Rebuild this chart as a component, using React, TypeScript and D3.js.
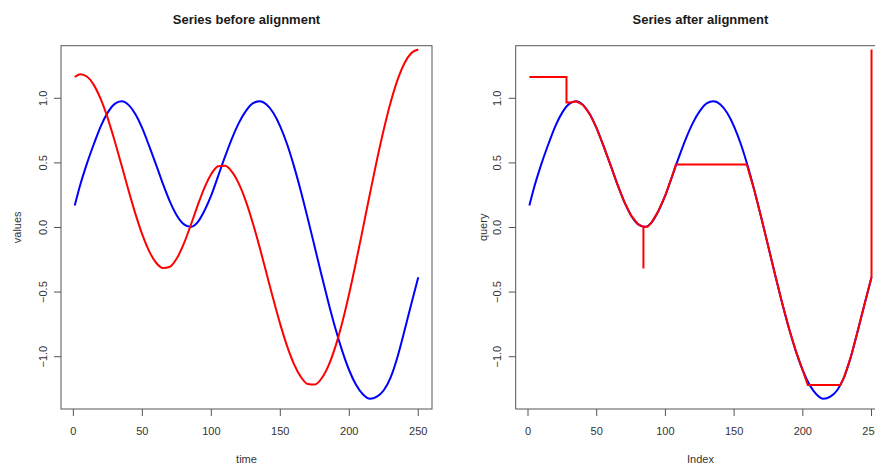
import React, { useRef, useEffect } from 'react';
import * as d3 from 'd3';

// sample positions along the series (time / index)
const timeSteps = [
  1, 5, 10, 15, 20, 25, 30, 35, 40, 45, 50, 55, 60, 65, 70, 75, 80, 85, 90, 95,
  100, 105, 110, 115, 120, 125, 130, 135, 140, 145, 150, 155, 160, 165, 170, 175,
  180, 185, 190, 195, 200, 205, 210, 215, 220, 225, 230, 235, 240, 245, 250,
];

// query series (blue)
const queryValues = [
  0.17, 0.33, 0.5, 0.65, 0.787, 0.891, 0.957, 0.977, 0.949, 0.877, 0.767, 0.629,
  0.485, 0.335, 0.2, 0.093, 0.026, 0.005, 0.04, 0.13, 0.25, 0.4, 0.55, 0.69, 0.81,
  0.9, 0.96, 0.977, 0.952, 0.886, 0.781, 0.642, 0.471, 0.277, 0.066, -0.153, -0.373,
  -0.586, -0.784, -0.959, -1.107, -1.22, -1.293, -1.326, -1.31, -1.26, -1.16, -1.0,
  -0.8, -0.59, -0.385,
];

// reference series (red)
const referenceValues = [
  1.165, 1.186, 1.167, 1.1, 0.989, 0.843, 0.668, 0.479, 0.287, 0.105, -0.056, -0.185,
  -0.273, -0.314, -0.304, -0.239, -0.127, 0.015, 0.167, 0.307, 0.414, 0.474, 0.477,
  0.43, 0.337, 0.204, 0.037, -0.152, -0.355, -0.558, -0.75, -0.92, -1.059, -1.158,
  -1.212, -1.216, -1.167, -1.067, -0.92, -0.731, -0.509, -0.262, -0.001, 0.263, 0.52,
  0.758, 0.969, 1.142, 1.271, 1.35, 1.377,
];

// reference after warping: query index -> matched reference value
const warpedIndex = [
  1, 28, 28, 31, 35, 40, 45, 50, 55, 60, 65, 70, 75, 80, 84, 84, 84, 87, 90, 95, 100,
  105, 107.6, 159.2, 165, 170, 175, 180, 185, 190, 195, 200, 203.6, 227.2, 230, 235,
  240, 245, 250, 250,
];
const warpedValues = [
  1.165, 1.165, 0.967, 0.967, 0.977, 0.949, 0.877, 0.767, 0.629, 0.485, 0.335, 0.2,
  0.093, 0.026, 0.005, -0.317, 0.005, 0.005, 0.04, 0.13, 0.25, 0.4, 0.487, 0.487,
  0.277, 0.066, -0.153, -0.373, -0.586, -0.784, -0.959, -1.107, -1.22, -1.22, -1.16,
  -1.0, -0.8, -0.59, -0.385, 1.377,
];

const xTicks = [0, 50, 100, 150, 200, 250];
const yTicks = [-1, -0.5, 0, 0.5, 1];
const yLimits = [-1.405, 1.407];

const W = 875;
const H = 464;
const FONT = '"Liberation Sans", Arial, sans-serif';

const panels = [
  { left: 61, right: 432, ylabGap: 44, title: 'Series before alignment', xlab: 'time', ylab: 'values' },
  { left: 515.7, right: 885.2, ylabGap: 33, title: 'Series after alignment', xlab: 'Index', ylab: 'query' },
];
const top = 45.7;
const bottom = 409;

const App = () => {
  const svgRef = useRef(null);

  useEffect(() => {
    const svg = d3.select(svgRef.current);
    svg.selectAll('*').remove();

    const n0 = timeSteps[0];
    const n1 = timeSteps[timeSteps.length - 1];
    const pad = (n1 - n0) * 0.04;

    panels.forEach((p, pi) => {
      const x = d3.scaleLinear().domain([n0 - pad, n1 + pad]).range([p.left, p.right]);
      const y = d3.scaleLinear().domain(yLimits).range([bottom, top]);
      const g = svg.append('g');
      const cx = (p.left + p.right) / 2;

      // title
      g.append('text')
        .attr('x', cx)
        .attr('y', 23.5)
        .attr('text-anchor', 'middle')
        .style('font-family', FONT)
        .style('font-weight', 'bold')
        .style('font-size', '13px')
        .attr('fill', '#1a1a1a')
        .text(p.title);

      // x axis
      const xa = g.append('g');
      xTicks.forEach(t => {
        xa.append('line')
          .attr('x1', x(t)).attr('x2', x(t))
          .attr('y1', bottom).attr('y2', bottom + 7)
          .attr('stroke', '#555');
        xa.append('text')
          .attr('x', x(t))
          .attr('y', 435)
          .attr('text-anchor', 'middle')
          .style('font-family', FONT)
          .style('font-size', '11px')
          .attr('fill', '#333')
          .text(t);
      });

      // y axis
      const ya = g.append('g');
      yTicks.forEach(t => {
        ya.append('line')
          .attr('x1', p.left - 7).attr('x2', p.left)
          .attr('y1', y(t)).attr('y2', y(t))
          .attr('stroke', '#555');
        ya.append('text')
          .attr('transform', `translate(${p.left - 18.3},${y(t)}) rotate(-90)`)
          .attr('dy', '0.35em')
          .attr('text-anchor', 'middle')
          .style('font-family', FONT)
          .style('font-size', '11px')
          .attr('fill', '#333')
          .text(d3.format('.1f')(t));
      });

      // axis titles
      g.append('text')
        .attr('x', cx)
        .attr('y', 463)
        .attr('text-anchor', 'middle')
        .style('font-family', FONT)
        .style('font-size', '11px')
        .attr('fill', '#333')
        .text(p.xlab);
      g.append('text')
        .attr('transform', `translate(${p.left - p.ylabGap},${(top + bottom) / 2}) rotate(-90)`)
        .attr('dy', '0.35em')
        .attr('text-anchor', 'middle')
        .style('font-family', FONT)
        .style('font-size', '11px')
        .attr('fill', '#333')
        .text(p.ylab);

      // box
      g.append('rect')
        .attr('x', p.left)
        .attr('y', top)
        .attr('width', p.right - p.left)
        .attr('height', bottom - top)
        .attr('fill', 'none')
        .attr('stroke', '#555');

      const smooth = d3.line()
        .x((d, i) => x(timeSteps[i]))
        .y(d => y(d))
        .curve(d3.curveMonotoneX);

      g.append('path')
        .attr('d', smooth(queryValues))
        .attr('fill', 'none')
        .attr('stroke', '#0000ff')
        .attr('stroke-width', 2);

      if (pi === 0) {
        g.append('path')
          .attr('d', smooth(referenceValues))
          .attr('fill', 'none')
          .attr('stroke', '#ff0000')
          .attr('stroke-width', 2);
      } else {
        const warped = d3.line()
          .x((d, i) => x(warpedIndex[i]))
          .y(d => y(d));
        g.append('path')
          .attr('d', warped(warpedValues))
          .attr('fill', 'none')
          .attr('stroke', '#ff0000')
          .attr('stroke-width', 2);
      }
    });
  }, []);

  return (
    <svg
      ref={svgRef}
      width={W}
      height={H}
      style={{ position: 'absolute', left: 0, top: 0, background: '#fff', display: 'block' }}
    />
  );
};

export default App;
